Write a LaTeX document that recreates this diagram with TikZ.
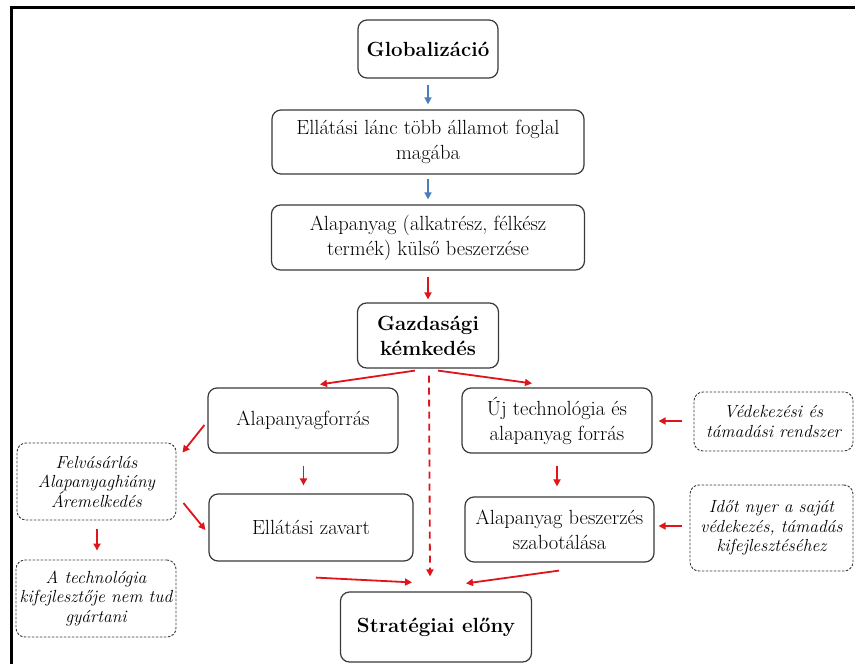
\documentclass[tikz,border=0pt]{standalone}
\usepackage{fontspec}
\usetikzlibrary{arrows.meta}
\definecolor{arrblue}{HTML}{4A7EBB}
\definecolor{arrred}{HTML}{E0141B}
\definecolor{boxline}{HTML}{3A3A3A}
\begin{document}
\begin{tikzpicture}[x=1pt,y=-1pt,
  box/.style={draw=boxline, line width=1.2pt, rounded corners=9pt, align=center, inner sep=0pt, font=\fontsize{20.5}{25}\selectfont},
  dbox/.style={draw=boxline, line width=0.9pt, dash pattern=on 2.5pt off 1.5pt, rounded corners=9pt, align=center, inner sep=0pt, font=\fontsize{17.5}{19.5}\selectfont\itshape},
  barrow/.style={draw=arrblue, line width=1.6pt, -{Triangle[length=7pt,width=7pt]}},
  rarrow/.style={draw=arrred, line width=1.8pt, -{Triangle[length=7pt,width=7pt]}},
  rdash/.style={rarrow, dash pattern=on 7pt off 5pt}
]
\useasboundingbox (0,0) rectangle (855,664);
\fill[white] (0,0) rectangle (855,664);
% frame
\draw[line width=3.5pt] (11.5,664) -- (11.5,7.5) -- (855,7.5);

% nodes
\node[box, minimum width=140pt, minimum height=58pt] (glob) at (428,49) {\bfseries Globalizáció};
\node[box, minimum width=312pt, minimum height=64pt] (chain) at (428,142) {Ellátási lánc több államot foglal\\magába};
\node[box, minimum width=313pt, minimum height=65pt] (raw) at (428,237.5) {Alapanyag (alkatrész, félkész\\termék) külső beszerzése};
\node[box, minimum width=141pt, minimum height=65pt] (spy) at (428,335.5) {\bfseries Gazdasági\\\bfseries kémkedés};
\node[box, minimum width=190pt, minimum height=65pt] (src) at (303,420.5) {Alapanyagforrás};
\node[box, minimum width=190pt, minimum height=65pt] (newtech) at (557,420.5) {Új technológia és\\alapanyag forrás};
\node[dbox, minimum width=159pt, minimum height=59pt] (def) at (773.5,421.5) {Védekezési és\\támadási rendszer};
\node[dbox, minimum width=159pt, minimum height=77pt] (buy) at (96.5,481.5) {Felvásárlás\\Alapanyaghiány\\Áremelkedés};
\node[box, minimum width=204pt, minimum height=67pt] (disrupt) at (311,527.5) {Ellátási zavart};
\node[box, minimum width=189pt, minimum height=65pt] (sabot) at (559.5,529.5) {Alapanyag beszerzés\\szabotálása};
\node[dbox, minimum width=163pt, minimum height=86pt] (time) at (771.5,528) {Időt nyer a saját\\védekezés, támadás\\kifejlesztéséhez};
\node[dbox, minimum width=160pt, minimum height=77pt] (tech) at (96,598.5) {A technológia\\kifejlesztője nem tud\\gyártani};
\node[box, minimum width=191pt, minimum height=70pt] (strat) at (436,627) {\bfseries Stratégiai előny};

% connectors
\draw[barrow] ([shift={(0,6)}]glob.south) -- ([shift={(0,-5)}]chain.north);
\draw[barrow] ([shift={(0,4)}]chain.south) -- ([shift={(0,-5)}]raw.north);
\draw[rarrow] ([shift={(0,6)}]raw.south) -- ([shift={(0,-3)}]spy.north);
\draw[rarrow] ([shift={(-13,2)}]spy.south) -- ([shift={(17,-3)}]src.north);
\draw[rarrow] ([shift={(10,2)}]spy.south) -- ([shift={(-25,-4)}]newtech.north);
\draw[rdash] ([shift={(1,7)}]spy.south) -- ([shift={(-6,-15)}]strat.north);
\draw[rarrow] ([shift={(-3,4.5)}]src.west) -- ([shift={(6,10)}]buy.north east);
\draw[rarrow] ([shift={(0.5,12)}]src.south) -- ([shift={(-7.5,-8)}]disrupt.north);
\draw[rarrow] ([shift={(0,12)}]newtech.south) -- ([shift={(-2.5,-10)}]sabot.north);
\draw[rarrow] ([shift={(-12,-0.5)}]def.west) -- ([shift={(6,0.5)}]newtech.east);
\draw[rarrow] ([shift={(-8,-2)}]time.west) -- ([shift={(4,-3.5)}]sabot.east);
\draw[rarrow] ([shift={(7,21.5)}]buy.east) -- ([shift={(-3,2.5)}]disrupt.west);
\draw[rarrow] ([shift={(0.5,9)}]buy.south) -- ([shift={(1,-9)}]tech.north);
\draw[rarrow] ([shift={(5,16)}]disrupt.south) -- ([shift={(-24,-9)}]strat.north);
\draw[rarrow] ([shift={(-0.5,8)}]sabot.south) -- ([shift={(30,-8)}]strat.north);
\end{tikzpicture}
\end{document}
